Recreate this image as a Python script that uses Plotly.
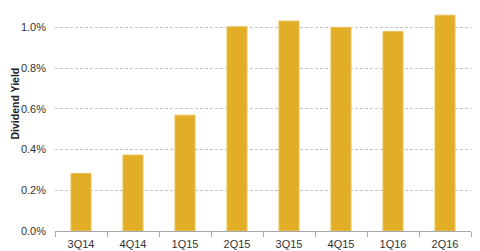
import plotly.graph_objects as go

quarters = ["3Q14", "4Q14", "1Q15", "2Q15", "3Q15", "4Q15", "1Q16", "2Q16"]
dividend_yield = [0.00283, 0.00373, 0.00569, 0.01003, 0.01031, 0.01000, 0.00980, 0.01060]
y_ticks = [0, 0.002, 0.004, 0.006, 0.008, 0.010]

fig = go.Figure(go.Bar(
    x=quarters, y=dividend_yield,
    marker=dict(color="#E2AE27", line=dict(color="#EBC15A", width=1)),
    width=0.385,
))
fig.update_layout(
    width=480, height=251,
    margin=dict(l=55, r=9, t=7, b=20),
    paper_bgcolor="white", plot_bgcolor="white",
    font=dict(family="Liberation Sans, Arial, sans-serif", size=11, color="#333333"),
    showlegend=False,
    bargap=0.6,
)
fig.update_xaxes(
    type="category", showline=True, linecolor="#A6A6A6", linewidth=1,
    ticks="outside", tickson="boundaries", ticklen=5, tickcolor="#A6A6A6",
    showgrid=False, tickfont=dict(size=11, color="#333333"), ticklabelstandoff=3,
    automargin=False,
)
fig.update_yaxes(
    range=[0, 0.011], tickvals=y_ticks, tickformat=".1%",
    showgrid=True, gridcolor="#C4C4C4", griddash="3px,2px", gridwidth=1,
    zeroline=False, showline=False, ticks="", ticklabelstandoff=8,
    tickfont=dict(size=11, color="#333333"), automargin=False,
)
fig.add_annotation(
    text="<b>Dividend Yield</b>", textangle=-90,
    xref="paper", yref="paper", x=0, y=0.569, xshift=-40,
    xanchor="center", yanchor="middle", showarrow=False,
    font=dict(size=10.5, color="#222222"),
)
fig.write_html("out.html")
